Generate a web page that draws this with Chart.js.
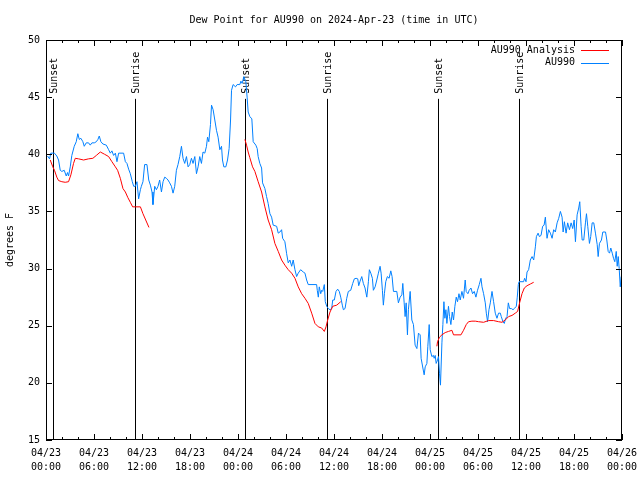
<!DOCTYPE html>
<html>
<head>
<meta charset="utf-8">
<script src="https://cdn.jsdelivr.net/npm/chart.js@4.4.1/dist/chart.umd.min.js"></script>
<style>
  html, body { margin: 0; padding: 0; background: #fff; }
  #dew { display: block; }
</style>
</head>
<body>
<canvas id="dew" width="640" height="480"></canvas>
<script>
// hours since 04/23 00:00 UTC
const blueHours = [
    0.19, 0.44, 0.6, 1.06, 1.35, 1.57, 1.78, 1.98, 2.28, 2.53,
    2.69, 2.82, 3.03, 3.23, 3.53, 3.78, 3.98, 4.16, 4.36, 4.61,
    4.78, 5.03, 5.32, 5.53, 5.74, 6.04, 6.29, 6.49, 6.66, 6.86,
    7.11, 7.54, 7.83, 8.04, 8.24, 8.45, 8.67, 8.87, 9.08, 9.7,
    9.92, 10.12, 10.33, 10.54, 10.79, 10.96, 11.17, 11.37, 11.58, 11.8,
    11.92, 12.12, 12.33, 12.62, 12.84, 13.05, 13.25, 13.37, 13.59, 13.8,
    14.0, 14.21, 14.43, 14.63, 14.84, 15.05, 15.25, 15.46, 15.68, 15.88,
    16.09, 16.3, 16.5, 16.72, 16.93, 17.13, 17.34, 17.56, 17.76, 17.97,
    18.18, 18.38, 18.6, 18.81, 19.01, 19.22, 19.43, 19.63, 19.85, 20.06,
    20.19, 20.35, 20.56, 20.69, 20.89, 21.1, 21.31, 21.51, 21.73, 21.94,
    22.06, 22.23, 22.48, 22.69, 22.89, 23.07, 23.19, 23.39, 23.69, 23.89,
    24.23, 24.36, 24.52, 24.73, 24.98, 25.14, 25.27, 25.48, 25.73, 25.9,
    26.23, 26.4, 26.52, 26.73, 26.95, 27.07, 27.36, 27.57, 27.77, 27.99,
    28.2, 28.4, 28.83, 29.03, 29.24, 29.45, 29.58, 29.86, 30.08, 30.28,
    30.49, 30.71, 30.9, 31.12, 31.33, 31.53, 31.83, 32.16, 32.37, 32.58,
    32.78, 33.83, 33.91, 34.04, 34.16, 34.34, 34.46, 34.59, 34.79, 34.91,
    35.09, 35.29, 35.5, 35.71, 35.84, 36.04, 36.25, 36.46, 36.66, 36.84,
    37.04, 37.17, 37.38, 37.59, 37.79, 38.09, 38.34, 38.54, 38.76, 38.97,
    39.09, 39.26, 39.47, 39.67, 39.88, 40.1, 40.3, 40.42, 40.6, 40.8,
    40.92, 41.14, 41.35, 41.55, 41.76, 41.89, 42.05, 42.17, 42.3, 42.47,
    42.67, 42.89, 43.1, 43.26, 43.43, 43.85, 44.05, 44.27, 44.48, 44.6,
    44.77, 44.89, 45.02, 45.18, 45.3, 45.52, 45.73, 45.93, 46.14, 46.36,
    46.56, 46.77, 46.89, 47.11, 47.27, 47.4, 47.61, 47.73, 47.9, 48.02,
    48.23, 48.43, 48.52, 48.65, 48.77, 48.94, 49.06, 49.19, 49.31, 49.49,
    49.61, 49.74, 49.86, 49.99, 50.11, 50.31, 50.44, 50.61, 50.78, 50.94,
    51.11, 51.28, 51.44, 51.62, 51.78, 51.99, 52.19, 52.4, 52.52, 52.74,
    52.9, 53.12, 53.32, 53.53, 53.74, 53.94, 54.16, 54.37, 54.5, 54.7,
    54.91, 55.04, 55.2, 55.37, 55.54, 55.75, 55.95, 56.16, 56.37, 56.57,
    56.79, 56.91, 57.12, 57.29, 57.45, 57.63, 57.79, 57.95, 58.17, 58.38,
    58.54, 58.79, 58.91, 59.04, 59.13, 59.7, 59.83, 60.0, 60.13, 60.33,
    60.54, 60.76, 60.96, 61.17, 61.3, 61.51, 61.67, 61.88, 62.08, 62.26,
    62.42, 62.63, 62.83, 63.05, 63.26, 63.46, 63.67, 63.89, 64.09, 64.3,
    64.51, 64.64, 64.8, 65.01, 65.21, 65.43, 65.64, 65.84, 66.02, 66.18,
    66.39, 66.59, 66.72, 66.89, 67.02, 67.22, 67.43, 67.56, 67.72, 67.93,
    68.09, 68.27, 68.47, 68.68, 68.9, 69.02, 69.18, 69.43, 69.6, 69.94,
    70.1, 70.27, 70.44, 70.6, 70.78, 70.94, 71.1, 71.28, 71.4, 71.53,
    71.65, 71.78, 71.9
];
const blueValues = [
    39.85, 39.6, 40.1, 40.1, 39.85, 39.5, 38.6, 38.5, 38.6, 38.1,
    38.4, 38.1, 38.9, 39.9, 40.7, 41.1, 41.8, 41.3, 41.4, 41.1,
    40.7, 41.0, 41.0, 40.8, 41.0, 41.0, 41.1, 41.3, 41.6, 41.1,
    40.9, 40.8, 40.4, 40.1, 40.3, 39.9, 40.1, 39.35, 40.1, 40.1,
    39.35, 39.2, 38.7, 38.3, 37.6, 37.2, 37.2, 37.6, 36.1, 36.9,
    37.2, 37.6, 39.1, 39.1, 37.75, 37.3, 36.7, 35.6, 37.2, 36.9,
    37.2, 37.75, 36.7, 37.6, 38.0, 37.9, 37.75, 37.5, 37.2, 36.6,
    37.2, 38.6, 39.1, 39.8, 40.7, 39.65, 39.2, 39.8, 38.9, 39.1,
    39.65, 39.2, 39.8, 38.3, 38.9, 39.8, 39.2, 40.2, 40.1, 40.7,
    41.5, 41.1, 42.6, 44.3, 43.9, 43.0, 42.1, 41.5, 40.4, 40.7,
    39.5, 38.9, 38.9, 39.5, 40.5, 43.0, 45.6, 46.1, 45.9, 46.1,
    46.1, 46.4, 46.2, 46.8, 46.35, 45.0, 43.7, 43.3, 43.1, 41.1,
    40.8, 40.5, 39.8, 39.2, 38.8, 37.5, 37.0, 36.3, 35.7, 34.8,
    34.5, 33.8, 33.7, 33.1, 33.2, 33.4, 32.65, 32.35, 31.3, 30.5,
    30.75, 30.2, 30.75, 29.9, 29.3, 29.6, 29.9, 29.7, 29.6, 29.0,
    28.6, 28.6, 28.1, 27.5, 28.4, 27.8, 28.1, 28.0, 28.6, 27.1,
    26.7, 26.5, 26.4, 26.5, 27.25, 27.25, 28.0, 28.2, 28.0, 27.5,
    26.8, 26.4, 26.5, 27.4, 28.0, 28.1, 28.7, 29.1, 29.15, 29.1,
    28.5, 28.9, 29.3, 28.7, 28.3, 27.5, 28.85, 29.9, 29.6, 29.15,
    28.1, 28.4, 29.0, 29.6, 30.2, 29.6, 28.1, 26.8, 27.8, 28.85,
    29.3, 29.15, 29.8, 29.3, 28.0, 28.0, 27.0, 27.5, 27.7, 28.7,
    27.0, 25.8, 27.0, 24.2, 26.4, 28.0, 25.5, 25.1, 23.3, 23.0,
    24.35, 24.2, 22.15, 21.3, 20.7, 21.4, 21.7, 23.2, 25.1, 22.9,
    22.3, 22.4, 22.15, 22.4, 21.7, 22.0, 22.3, 20.8, 19.8, 23.5,
    25.1, 27.1, 25.65, 26.4, 25.2, 26.7, 25.8, 25.1, 26.2, 25.5,
    26.7, 27.5, 27.1, 27.8, 27.25, 28.0, 27.4, 29.0, 28.0, 27.8,
    28.1, 28.3, 27.8, 28.0, 27.5, 28.1, 28.6, 29.15, 28.4, 27.8,
    27.0, 26.1, 25.35, 26.4, 27.0, 28.0, 27.1, 26.1, 25.65, 26.1,
    26.1, 25.8, 25.35, 25.2, 25.65, 25.8, 27.0, 26.5, 26.5, 26.4,
    26.5, 26.7, 27.5, 28.6, 28.85, 28.85, 29.15, 28.85, 29.7, 29.9,
    30.75, 31.05, 30.75, 31.9, 32.8, 33.1, 32.8, 32.9, 33.7, 33.8,
    34.5, 32.65, 33.4, 33.1, 32.65, 33.4, 33.2, 34.0, 34.4, 35.0,
    34.5, 33.2, 34.1, 33.1, 34.0, 33.4, 34.0, 33.5, 34.25, 32.35,
    34.7, 35.3, 35.85, 33.7, 32.5, 32.5, 34.0, 34.8, 33.7, 32.2,
    32.8, 34.0, 34.0, 33.1, 32.1, 31.05, 32.2, 32.5, 33.2, 33.2,
    32.5, 31.5, 31.35, 31.8, 31.35, 30.9, 30.6, 31.5, 30.2, 31.05,
    30.0, 28.4, 29.3
];

// analysis series, null = gap between runs
const redHours = [
    0.53, 0.85, 1.06, 1.35, 1.57, 1.98, 2.4, 2.82, 3.11, 3.44,
    3.66, 4.07, 4.7, 5.32, 5.86, 6.29, 6.79, 7.33, 7.83, 8.24,
    8.67, 8.95, 9.29, 9.62, 9.92, 10.24, 10.54, 10.83, 11.17, 11.8,
    12.12, 12.87, 18, 24.86, 25.07, 25.27, 25.48, 25.82, 26.11, 26.52,
    26.95, 27.36, 27.77, 28.2, 28.61, 29.03, 29.45, 29.86, 30.28, 30.7,
    31.12, 31.53, 31.96, 32.37, 32.78, 33.21, 33.62, 34.04, 34.46, 34.79,
    35.0, 35.21, 35.5, 35.84, 36.34, 36.84, 42, 48.86, 48.94, 49.19,
    49.49, 49.9, 50.31, 50.74, 50.94, 51.87, 52.19, 52.53, 52.82, 53.24,
    53.66, 54.07, 54.7, 55.32, 55.95, 56.57, 57.0, 57.41, 57.83, 58.25,
    58.66, 58.95, 59.2, 59.5, 59.79, 60.13, 60.54, 60.96
];
const redValues = [
    39.5, 38.9, 38.6, 38.0, 37.7, 37.6, 37.55, 37.6, 38.2, 39.2,
    39.65, 39.6, 39.5, 39.6, 39.65, 39.9, 40.2, 40.0, 39.8, 39.35,
    38.9, 38.6, 37.9, 37.0, 36.7, 36.2, 35.8, 35.4, 35.4, 35.4,
    34.8, 33.6, null, 41.3, 40.8, 40.2, 39.7, 38.9, 38.5, 37.6,
    36.7, 35.4, 34.25, 33.4, 32.2, 31.5, 30.75, 30.3, 29.9, 29.6,
    29.15, 28.4, 27.8, 27.4, 26.95, 26.1, 25.2, 24.9, 24.8, 24.5,
    24.9, 25.5, 26.2, 26.7, 26.8, 27.1, null, 23.2, 23.6, 24.0,
    24.2, 24.4, 24.5, 24.6, 24.2, 24.2, 24.6, 25.1, 25.35, 25.4,
    25.4, 25.35, 25.3, 25.45, 25.45, 25.35, 25.3, 25.5, 25.8, 25.9,
    26.1, 26.25, 27.0, 27.8, 28.3, 28.5, 28.65, 28.8
];

const sunHours = [0.85, 11.12, 24.9, 35.16, 48.94, 59.08];
const sunLabels = ["Sunset", "Sunrise", "Sunset", "Sunrise", "Sunset", "Sunrise"];
const sunLineTop = 44.85;

const tickDates = ["04/23", "04/23", "04/23", "04/23", "04/24", "04/24", "04/24",
                   "04/24", "04/25", "04/25", "04/25", "04/25", "04/26"];
const tickTimes = ["00:00", "06:00", "12:00", "18:00", "00:00", "06:00", "12:00",
                   "18:00", "00:00", "06:00", "12:00", "18:00", "00:00"];

const seriesNames = ["AU990 Analysis", "AU990"];
const seriesColors = ["#ff0000", "#0080ff"];
const titleText = "Dew Point for AU990 on 2024-Apr-23 (time in UTC)";

const FONT = "'DejaVu Sans Mono', monospace";

function toPoints(hours, values) {
    return hours.map((h, i) => ({ x: h, y: values[i] }));
}

// frame, inward ticks, sun markers, legend, title (gnuplot look)
const gnuplotDecor = {
    id: "gnuplotDecor",
    beforeDatasetsDraw(chart) {
        const ctx = chart.ctx;
        const area = chart.chartArea;
        const xs = chart.scales.x;
        const ys = chart.scales.y;
        ctx.save();
        ctx.strokeStyle = "#000";
        ctx.fillStyle = "#000";
        ctx.lineWidth = 1;
        ctx.font = "10px " + FONT;
        const topPx = ys.getPixelForValue(sunLineTop);
        sunHours.forEach((h, i) => {
            const px = Math.round(xs.getPixelForValue(h)) + 0.5;
            ctx.beginPath();
            ctx.moveTo(px, area.bottom);
            ctx.lineTo(px, topPx);
            ctx.stroke();
            ctx.save();
            ctx.translate(px + 1, topPx - 5);
            ctx.rotate(-Math.PI / 2);
            ctx.textAlign = "left";
            ctx.textBaseline = "middle";
            ctx.fillText(sunLabels[i], 0, 0);
            ctx.restore();
        });
        ctx.restore();
    },
    afterDraw(chart) {
        const ctx = chart.ctx;
        const area = chart.chartArea;
        const xs = chart.scales.x;
        const ys = chart.scales.y;
        ctx.save();
        ctx.strokeStyle = "#000";
        ctx.lineWidth = 1;
        ctx.strokeRect(area.left + 0.5, area.top + 0.5, area.right - area.left - 1, area.bottom - area.top - 1);

        ctx.beginPath();
        for (let h = 0; h <= 72; h += 2) {
            const px = Math.round(xs.getPixelForValue(h)) + 0.5;
            const len = h % 6 === 0 ? 6 : 3;
            ctx.moveTo(px, area.bottom);
            ctx.lineTo(px, area.bottom - len);
            ctx.moveTo(px, area.top);
            ctx.lineTo(px, area.top + len);
        }
        for (let v = 15; v <= 50; v += 5) {
            const py = Math.round(ys.getPixelForValue(v)) + 0.5;
            ctx.moveTo(area.left, py);
            ctx.lineTo(area.left + 6, py);
            ctx.moveTo(area.right, py);
            ctx.lineTo(area.right - 6, py);
        }
        ctx.stroke();

        // legend
        ctx.font = "10px " + FONT;
        ctx.textAlign = "right";
        ctx.textBaseline = "middle";
        seriesNames.forEach((name, i) => {
            const y = area.top + 10 + i * 12.5;
            ctx.fillStyle = "#000";
            ctx.fillText(name, area.right - 47, y);
            ctx.strokeStyle = seriesColors[i];
            ctx.beginPath();
            ctx.moveTo(area.right - 41, Math.round(y) + 0.5);
            ctx.lineTo(area.right - 13, Math.round(y) + 0.5);
            ctx.stroke();
        });

        // title centred over the plot
        ctx.fillStyle = "#000";
        ctx.textAlign = "center";
        ctx.fillText(titleText, (area.left + area.right) / 2, 20);
        ctx.restore();
    }
};

document.addEventListener("DOMContentLoaded", function() {
    const ctx = document.getElementById("dew").getContext("2d");

    new Chart(ctx, {
        type: "line",
        data: {
            datasets: [{
                label: seriesNames[0],
                data: toPoints(redHours, redValues),
                borderColor: seriesColors[0],
                borderWidth: 1,
                pointRadius: 0,
                spanGaps: false,
                tension: 0
            }, {
                label: seriesNames[1],
                data: toPoints(blueHours, blueValues),
                borderColor: seriesColors[1],
                borderWidth: 1,
                pointRadius: 0,
                tension: 0
            }]
        },
        options: {
            responsive: false,
            animation: false,
            devicePixelRatio: 1,
            layout: { padding: { top: 40, right: 18, left: 0, bottom: 0 } },
            plugins: {
                legend: { display: false },
                title: { display: false },
                tooltip: { enabled: false }
            },
            scales: {
                x: {
                    type: "linear",
                    min: 0,
                    max: 72,
                    grid: { display: false, drawTicks: false },
                    border: { display: false },
                    ticks: {
                        stepSize: 6,
                        autoSkip: false,
                        maxRotation: 0,
                        padding: 6,
                        color: "#000",
                        font: { family: FONT, size: 10, lineHeight: 1.4 },
                        callback: value => [tickDates[value / 6], tickTimes[value / 6]]
                    },
                    afterFit: scale => {
                        scale.height = 40;
                        scale.paddingRight = 0;
                        scale.paddingLeft = 0;
                    }
                },
                y: {
                    min: 15,
                    max: 50,
                    grid: { display: false, drawTicks: false },
                    border: { display: false },
                    ticks: {
                        stepSize: 5,
                        padding: 6,
                        color: "#000",
                        font: { family: FONT, size: 10 }
                    },
                    title: {
                        display: true,
                        text: "degrees F",
                        color: "#000",
                        padding: { top: 4, bottom: 0 },
                        font: { family: FONT, size: 10 }
                    },
                    afterFit: scale => { scale.width = 46; }
                }
            }
        },
        plugins: [gnuplotDecor]
    });
});
</script>
</body>
</html>
